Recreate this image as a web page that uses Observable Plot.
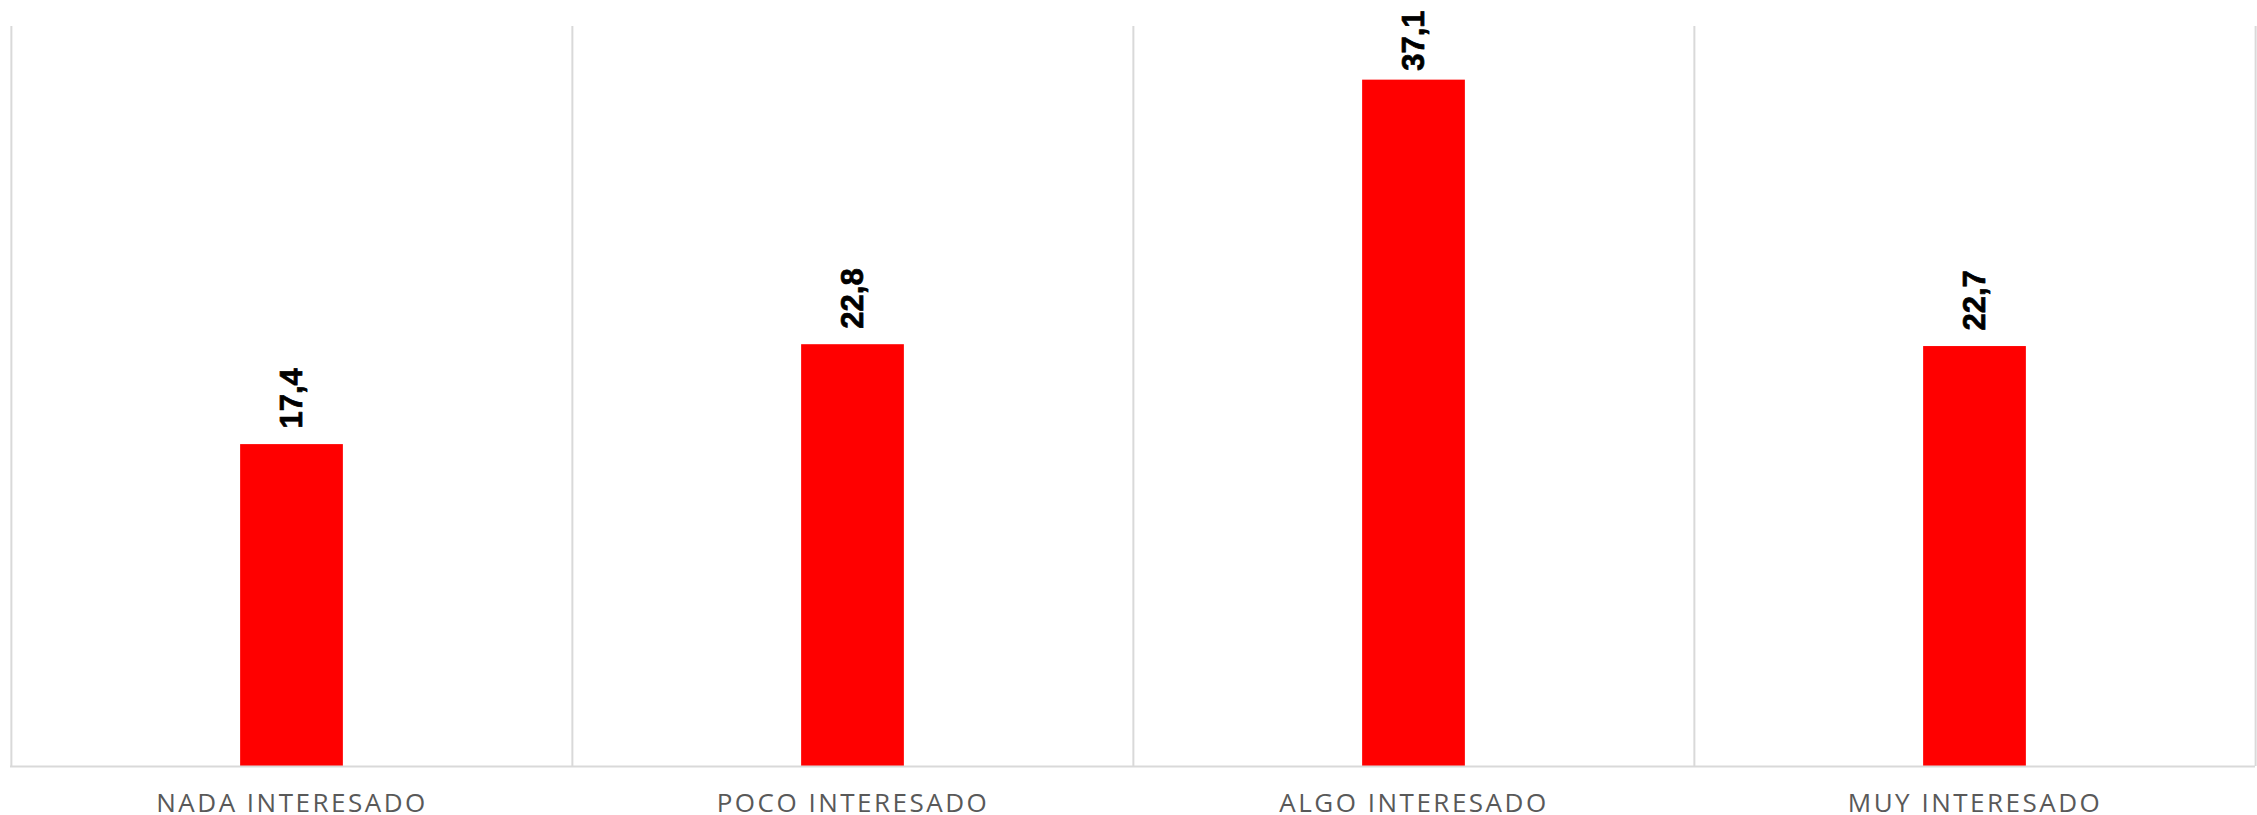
<!DOCTYPE html>
<html>
<head>
<meta charset="utf-8">
<script src="https://cdn.jsdelivr.net/npm/d3@7"></script>
<script src="https://cdn.jsdelivr.net/npm/@observablehq/plot@0.6"></script>
<style>
  html, body { margin: 0; padding: 0; background: #fff; }
  #chart svg { display: block; }
  #chart g[aria-label="x-axis tick label"] text { letter-spacing: 2.5px; }
</style>
</head>
<body>
<div id="chart"></div>
<script>
const categories = ["NADA INTERESADO", "POCO INTERESADO", "ALGO INTERESADO", "MUY INTERESADO"];
const values = [17.4, 22.8, 37.1, 22.7];
const yDomain = [0, 40];

const data = categories.map((c, i) => ({category: c, value: values[i]}));
const fmt = d3.formatLocale({decimal: ",", thousands: ".", grouping: [3], currency: ["", ""]}).format(".1f");

const W = 2257, H = 815;
const mL = 10, mR = 2, mT = 26, mB = 49;
const band = (W - mL - mR) / categories.length;
const barW = 103;
const inset = (band - barW) / 2;

// label placement: labels above bars, pushed inside the chart area when they would overflow at the top
const labelGap = 16, labelLen = 64, topLimit = 10;
const yPx = v => mT + (H - mT - mB) * (1 - (v - yDomain[0]) / (yDomain[1] - yDomain[0]));
const fits = d => yPx(d.value) - labelGap - labelLen >= topLimit;

const labelStyle = {
  rotate: -90, lineAnchor: "middle",
  fontSize: 31, fontWeight: 900, fill: "#000", stroke: "#000", strokeWidth: 0.7,
  fontFamily: "'Liberation Sans', Arial, sans-serif",
  style: {letterSpacing: "1px"}
};

const plot = Plot.plot({
  width: W,
  height: H,
  marginLeft: mL,
  marginRight: mR,
  marginTop: mT,
  marginBottom: mB,
  style: {background: "#fff", fontFamily: "'Open Sans', sans-serif"},
  x: {domain: categories, padding: 0},
  y: {domain: yDomain, axis: null},
  marks: [
    Plot.ruleX(categories, {x: d => d, y1: yDomain[0], y2: yDomain[1], dx: -band / 2, stroke: "#d9d9d9", strokeWidth: 2}),
    Plot.ruleX([categories[categories.length - 1]], {x: d => d, y1: yDomain[0], y2: yDomain[1], dx: band / 2, stroke: "#d9d9d9", strokeWidth: 2}),
    Plot.barY(data, {x: "category", y: "value", fill: "#ff0000", insetLeft: inset, insetRight: inset}),
    Plot.ruleY([0], {stroke: "#d9d9d9", strokeWidth: 2}),
    Plot.text(data.filter(fits), {
      ...labelStyle,
      x: "category", y: "value", text: d => fmt(d.value),
      textAnchor: "start", dy: -labelGap
    }),
    Plot.text(data.filter(d => !fits(d)), {
      ...labelStyle,
      x: "category", frameAnchor: "top", text: d => fmt(d.value),
      textAnchor: "end", dy: topLimit - mT
    }),
    Plot.axisX({tickSize: 0, tickPadding: 27, fontSize: 26, fill: "#595959", label: null, fontFamily: "'Open Sans', sans-serif"})
  ]
});
document.getElementById("chart").appendChild(plot);
</script>
</body>
</html>
